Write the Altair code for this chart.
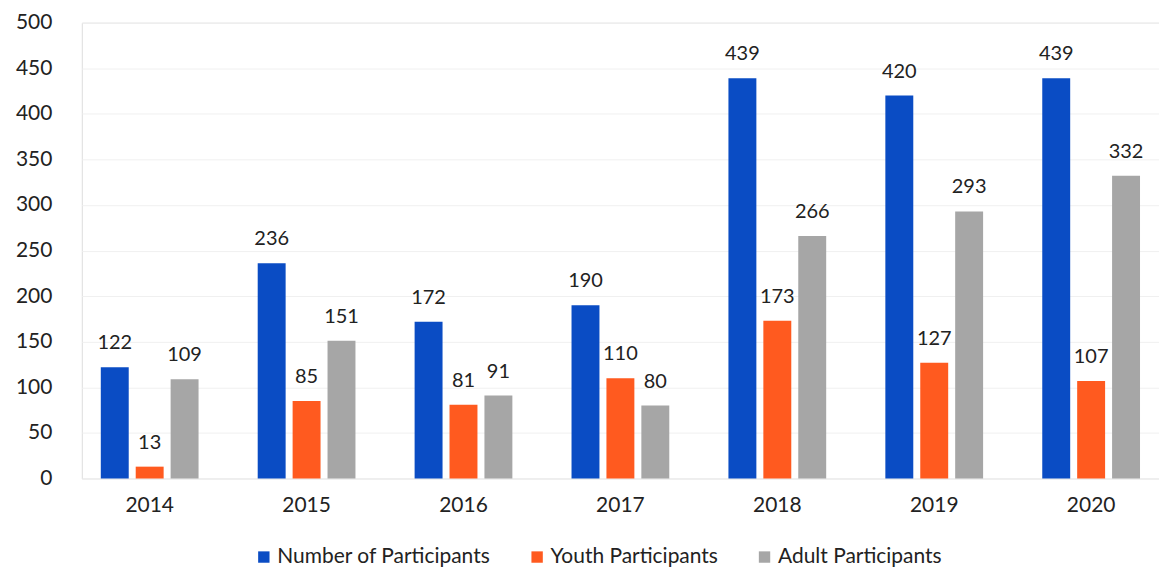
import altair as alt
import pandas as pd

years = ["2014", "2015", "2016", "2017", "2018", "2019", "2020"]
series = ["Number of Participants", "Youth Participants", "Adult Participants"]
number = [122, 236, 172, 190, 439, 420, 439]
youth = [13, 85, 81, 110, 173, 127, 107]
adult = [109, 151, 91, 80, 266, 293, 332]
colors = ["#0a4cc4", "#ff5a1f", "#a6a6a6"]

rows = []
for i, y in enumerate(years):
    for s, vals in zip(series, [number, youth, adult]):
        rows.append({"Year": y, "Series": s, "Value": vals[i]})
df = pd.DataFrame(rows)

FONT = "Lato"

base = alt.Chart(df).encode(
    x=alt.X("Year:N", sort=years,
            scale=alt.Scale(paddingInner=0.377, paddingOuter=0.121),
            axis=alt.Axis(title=None, labelAngle=0, domain=False, ticks=False,
                          labelPadding=16, labelFontSize=21, labelFont=FONT,
                          labelColor="#222")),
    xOffset=alt.XOffset("Series:N", sort=series,
                        scale=alt.Scale(paddingInner=0.2, paddingOuter=0)),
)

bars = base.mark_bar().encode(
    y=alt.Y("Value:Q", scale=alt.Scale(domain=[0, 500]),
            axis=alt.Axis(title=None, values=list(range(0, 501, 50)),
                          domain=False, ticks=False, labelPadding=30,
                          labelFontSize=21, labelFont=FONT, labelColor="#222",
                          gridColor="#f0f0f0")),
    color=alt.Color("Series:N", sort=series,
                    scale=alt.Scale(domain=series, range=colors),
                    legend=alt.Legend(title=None, orient="none", direction="horizontal",
                                      legendX=172, legendY=525,
                                      symbolType="square", symbolSize=130,
                                      labelFontSize=21, labelFont=FONT, labelColor="#222",
                                      labelOffset=3, labelLimit=400, columnPadding=36)),
)

labels = base.mark_text(baseline="middle", dy=-24, fontSize=20, font=FONT,
                        color="#222").encode(
    y=alt.Y("Value:Q"),
    text=alt.Text("Value:Q"),
)

chart = (bars + labels).properties(
    width=1080, height=457,
    padding={"left": 7, "top": 3, "right": 0, "bottom": 0},
).configure_view(stroke=None).configure(background="white")

chart.save("out.html", embed_options={"renderer": "svg", "actions": False})
